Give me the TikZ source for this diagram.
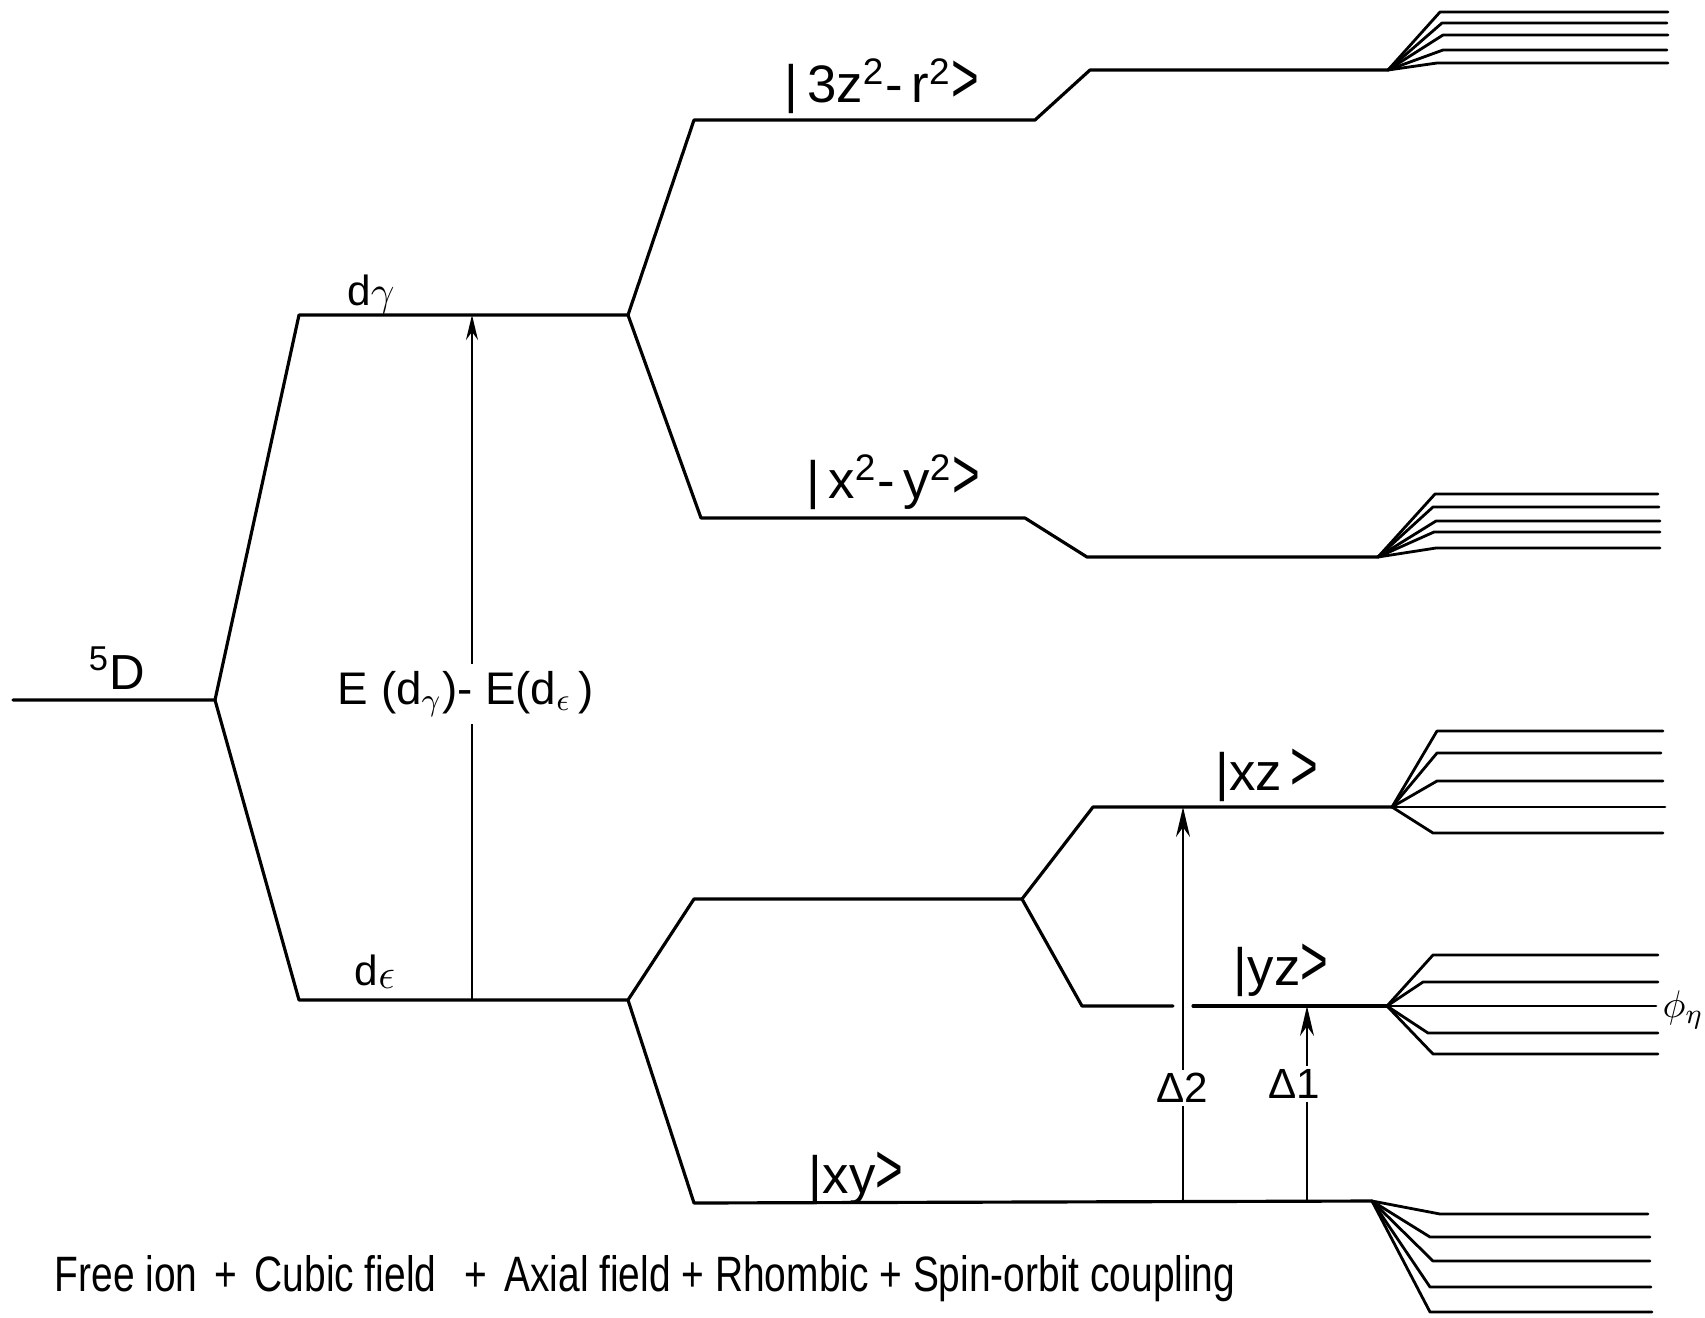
\documentclass[tikz,border=0pt]{standalone}
\usepackage{fontspec}
\setmainfont{Liberation Sans}
\usepackage{graphicx}
\usetikzlibrary{arrows.meta}
\newcommand\kr{\scalebox{0.9}[1.35]{>}}
\begin{document}
\begin{tikzpicture}[x=0.01cm,y=-0.01cm,
  lev/.style={line width=0.9pt, line join=round, line cap=round},
  fan/.style={line width=0.8pt, line join=round, line cap=round},
  gaparrow/.style={line width=0.6pt, -{Stealth[length=0.3cm,width=0.14cm]}},
  bigarrow/.style={line width=0.6pt, -{Stealth[length=0.25cm,width=0.12cm]}},
  lbl/.style={font=\fontsize{15}{17}\selectfont, inner sep=1pt},
  sml/.style={font=\fontsize{12}{14}\selectfont, inner sep=1pt},
  cut/.style={fill=white, inner sep=2pt}]
\useasboundingbox (0,0) rectangle (1705,1317);

% coordinates of levels
\coordinate (D0) at (13,700);   \coordinate (D1) at (215,700);
\coordinate (g0) at (299,315);  \coordinate (g1) at (628,315);
\coordinate (e0) at (299,1000); \coordinate (e1) at (628,1000);
\coordinate (z0) at (694,120);  \coordinate (z1) at (1035,120);
\coordinate (z2) at (1090,70);  \coordinate (z3) at (1388,70);
\coordinate (x0) at (701,518);  \coordinate (x1) at (1025,518);
\coordinate (x2) at (1087,557); \coordinate (x3) at (1378,557);
\coordinate (a0) at (694,899);  \coordinate (a1) at (1022,899);
\coordinate (xz0) at (1093,807); \coordinate (xz1) at (1392,807);
\coordinate (yz0) at (1082,1006); \coordinate (yzL) at (1173,1006);
\coordinate (yzR) at (1193,1006); \coordinate (yz1) at (1387,1006);
\coordinate (xy0) at (694,1203); \coordinate (xy1) at (1372,1201);

% free ion and cubic field
\draw[lev] (D0) -- (D1) -- (g0) -- (g1);
\draw[lev] (D1) -- (e0) -- (e1);
% axial field
\draw[lev] (g1) -- (z0) -- (z1) -- (z2) -- (z3);
\draw[lev] (g1) -- (x0) -- (x1) -- (x2) -- (x3);
\draw[lev] (e1) -- (a0) -- (a1);
\draw[lev] (e1) -- (xy0) -- (xy1);
% rhombic
\draw[lev] (a1) -- (xz0) -- (xz1);
\draw[lev] (a1) -- (yz0) -- (yzL);
\draw[lev] (yzR) -- (yz1);

% spin-orbit fans
\foreach \sx/\sy/\ex in {1440/12/1668,1442/23/1667,1443/35/1668,1443/50/1667,1437/63/1668}
  \draw[fan] (z3) -- (\sx,\sy) -- (\ex,\sy);
\foreach \sx/\sy/\ex in {1435/494/1658,1433/507/1659,1436/521/1660,1434/532/1660,1436/548/1660}
  \draw[fan] (x3) -- (\sx,\sy) -- (\ex,\sy);
\foreach \sx/\sy/\ex in {1437/731/1663,1437/753/1661,1437/781/1663,1437/807/1665,1433/833/1663}
  \draw[fan] (xz1) -- (\sx,\sy) -- (\ex,\sy);
\foreach \sx/\sy/\ex in {1433/955/1658,1423/982/1658,1428/1006/1656,1428/1033/1658,1433/1054/1658}
  \draw[fan] (yz1) -- (\sx,\sy) -- (\ex,\sy);
\foreach \sx/\sy/\ex in {1440/1214/1648,1430/1237/1650,1433/1261/1650,1430/1287/1651,1430/1312/1652}
  \draw[fan] (xy1) -- (\sx,\sy) -- (\ex,\sy);

% arrows
\coordinate (Ebot) at (472,1000); \coordinate (Etop) at (472,315);
\draw[bigarrow] (Ebot) -- (Etop);
\coordinate (A2bot) at (1183,1203); \coordinate (A2top) at (1183,807);
\draw[gaparrow] (A2bot) -- (A2top);
\coordinate (A1bot) at (1307,1203); \coordinate (A1top) at (1307,1006);
\draw[gaparrow] (A1bot) -- (A1top);

% labels
\node[lbl, font=\fontsize{14}{16}\selectfont] (lD) at (117,668) {\textsuperscript{5}D};
\node[sml] (lg) at (371,294) {d$\gamma$};
\node[sml] (le) at (375,972) {d\raisebox{-0.08em}{$\epsilon$}};
\node[cut, font=\fontsize{13}{15}\selectfont] (lE) at (466,694) {E (d$_\gamma$)- E(d$_\epsilon$\,)};
\node[lbl] (l3z) at (882,86) {|\,3z\textsuperscript{2}-\,r\textsuperscript{2}\kr};
\node[lbl] (lx2) at (893,482) {|\,x\textsuperscript{2}-\,y\textsuperscript{2}\kr};
\node[lbl] (lxz) at (1267,775) {|xz\,\kr};
\node[lbl] (lyz) at (1281,970) {|yz\kr};
\node[lbl] (lxy) at (856,1178) {|xy\kr};
\node[cut, sml] (lA2) at (1182,1088) {Δ2};
\node[cut, sml] (lA1) at (1294,1084) {Δ1};
\node[anchor=east, inner sep=0pt, font=\fontsize{11}{13}\selectfont] (lphi) at (1704,1010) {$\phi_\eta$};
\node[anchor=base west, inner sep=0pt] (cap) at (54,1291)
  {\resizebox{11.8cm}{0.36cm}{Free ion \,+\, Cubic field \ \,+\, Axial field + Rhombic + Spin-orbit coupling}};
\end{tikzpicture}
\end{document}
